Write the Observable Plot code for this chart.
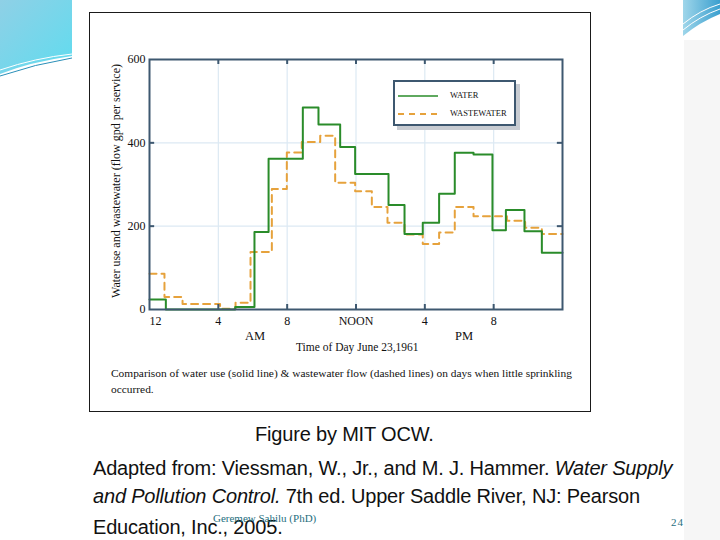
<!DOCTYPE html>
<html><head><meta charset="utf-8">
<script src="https://cdn.jsdelivr.net/npm/d3@7"></script>
<script src="https://cdn.jsdelivr.net/npm/@observablehq/plot@0.6"></script>
<style>
  html,body{margin:0;padding:0;background:#fff;}
  body{width:720px;height:540px;position:relative;overflow:hidden;font-family:"Liberation Serif",serif;}
  .abs{position:absolute;white-space:nowrap;}
  #frame{position:absolute;left:89px;top:12px;width:500px;height:398px;border:1.5px solid #1a1a1a;}
  #chart{position:absolute;left:89px;top:12px;}
  .ser{font-family:"Liberation Serif",serif;color:#111;}
  .sans{font-family:"Liberation Sans",Arial,sans-serif;color:#111;letter-spacing:-0.18px;}
</style>
</head><body>
<svg class="abs" style="left:0;top:0" width="720" height="540">
  <defs>
    <linearGradient id="gl" x1="0" y1="0" x2="1" y2="1">
      <stop offset="0" stop-color="#8fd0e6"/><stop offset="1" stop-color="#5fdcef"/>
    </linearGradient>
    <linearGradient id="gr" x1="0" y1="0" x2="1" y2="0">
      <stop offset="0" stop-color="#9fd6ea"/><stop offset="1" stop-color="#3a9fcf"/>
    </linearGradient>
  </defs>
  <path d="M0,0 L72,0 L72,56 Q30,62 0,74 Z" fill="url(#gl)"/>
  <path d="M0,70 Q35,58 72,54" stroke="#fff" stroke-width="1" fill="none"/>
  <path d="M0,76 Q35,64 72,58" stroke="#2a8fb8" stroke-width="1" fill="none"/>
  <path d="M683,0 L720,0 L720,14 Q700,22 683,36 Z" fill="url(#gr)"/>
  <path d="M683,24 Q700,10 720,4" stroke="#fff" stroke-width="1" fill="none"/>
  <path d="M683,30 Q700,16 720,9" stroke="#fff" stroke-width="1" fill="none"/>
  <rect x="684" y="40" width="36" height="500" fill="#f6f6f6"/>
</svg>
<div id="frame"></div>
<div id="chart"></div>
<div class="abs ser" style="left:116px;top:181px;font-size:12px;transform:translate(-50%,-50%) rotate(-90deg);">Water use and wastewater (flow gpd per service)</div>
<div class="abs ser" style="left:245px;top:329px;font-size:12.5px;">AM</div>
<div class="abs ser" style="left:455px;top:329px;font-size:12.5px;">PM</div>
<div class="abs ser" style="left:296px;top:341px;font-size:11.5px;">Time of Day June 23,1961</div>
<div class="abs ser" style="left:111px;top:367px;font-size:11.4px;">Comparison of water use (solid line) &amp; wastewater flow (dashed lines) on days when little sprinkling</div>
<div class="abs ser" style="left:111px;top:383px;font-size:11.4px;">occurred.</div>
<div class="abs" style="left:393px;top:80px;width:119px;height:42px;border:2px solid #3e5870;background:#fff;box-shadow:4px 4px 0 #c8ccd2;">
  <svg class="abs" style="left:0;top:0" width="119" height="42">
    <line x1="3" y1="14" x2="43" y2="14" stroke="#2a8c2a" stroke-width="1.3"/>
    <line x1="3" y1="32" x2="43" y2="32" stroke="#e6a23c" stroke-width="2" stroke-dasharray="6,5"/>
  </svg>
  <div class="abs ser" style="left:55px;top:8px;font-size:8.5px;">WATER</div>
  <div class="abs ser" style="left:55px;top:26px;font-size:8.5px;">WASTEWATER</div>
</div>
<div class="abs sans" style="left:255px;top:423px;font-size:20px;">Figure by MIT OCW.</div>
<div class="abs sans" style="left:93px;top:457px;font-size:20px;">Adapted from: Viessman, W., Jr., and M. J. Hammer. <i>Water Supply</i></div>
<div class="abs sans" style="left:93px;top:485px;font-size:20px;"><i>and Pollution Control.</i> 7th ed. Upper Saddle River, NJ: Pearson</div>
<div class="abs sans" style="left:93px;top:516px;font-size:20px;">Education, Inc., 2005.</div>
<div class="abs ser" style="left:213px;top:512px;font-size:11px;color:#1f6f80;">Geremew Sahilu (PhD)</div>
<div class="abs ser" style="left:671px;top:516px;font-size:11px;color:#1f6f80;letter-spacing:1px;">24</div>
<script>
// Water use (gpd per service): step start hours and values
const waterHours  = [0, 0.95, 4.98, 6.1, 6.92, 8.91, 9.82, 11.08, 11.95, 13.89, 14.82, 15.88, 16.83, 17.74, 18.83, 19.93, 20.71, 21.79, 22.8, 24];
const waterValues = [24, 0, 6, 186, 362, 485, 444, 390, 325, 251, 181, 208, 278, 376, 372, 190, 239, 188, 136];
// Wastewater flow (gpd per service)
const wasteHours  = [0, 0.87, 1.92, 4.1, 5.0, 5.87, 7.11, 7.98, 8.85, 9.92, 10.79, 11.95, 12.92, 13.83, 14.82, 15.88, 16.83, 17.74, 18.83, 20.77, 21.83, 22.8, 24];
const wasteValues = [86, 30, 13, 2, 16, 138, 289, 377, 402, 417, 304, 284, 246, 208, 180, 157, 185, 246, 224, 213, 196, 181];
// axis ticks
const xTicks = [0, 4, 8, 12, 16, 20];
const xTickLabels = ["12", "4", "8", "NOON", "4", "8"];
const yTicks = [0, 200, 400, 600];
const yGrid = [200, 400];

function steps(hours, values) {
  const pts = values.map((v, i) => ({hour: hours[i], value: v}));
  pts.push({hour: hours[hours.length - 1], value: values[values.length - 1]});
  return pts;
}
const water = steps(waterHours, waterValues);
const waste = steps(wasteHours, wasteValues);
const axisColor = "#3e5870";
const label = d => xTickLabels[xTicks.indexOf(d)];

const chart = Plot.plot({
  width: 502, height: 400,
  marginLeft: 60, marginRight: 29, marginTop: 47, marginBottom: 103,
  x: {domain: [0, 24]},
  y: {domain: [0, 600]},
  style: {fontFamily: "Liberation Serif", fontSize: "12px", background: "transparent", color: "#111"},
  marks: [
    Plot.ruleX(xTicks.slice(1), {stroke: "#dce9f3", strokeWidth: 1.2}),
    Plot.ruleY(yGrid, {stroke: "#dce9f3", strokeWidth: 1.2}),
    Plot.line(waste, {x: "hour", y: "value", curve: "step-after", stroke: "#e6a23c", strokeWidth: 2, strokeDasharray: "7,5"}),
    Plot.line(water, {x: "hour", y: "value", curve: "step-after", stroke: "#2a8c2a", strokeWidth: 2}),
    Plot.frame({stroke: axisColor, strokeWidth: 2}),
    Plot.ruleX(xTicks.slice(1), {y1: 0, y2: 12, stroke: axisColor, strokeWidth: 2}),
    Plot.ruleX(xTicks.slice(1), {y1: 588, y2: 600, stroke: axisColor, strokeWidth: 2}),
    Plot.ruleY(yGrid, {x1: 0, x2: 0.3, stroke: axisColor, strokeWidth: 2}),
    Plot.ruleY(yGrid, {x1: 23.7, x2: 24, stroke: axisColor, strokeWidth: 2}),
    Plot.axisX(xTicks.slice(0, 1), {tickSize: 0, tickPadding: 7, tickFormat: label, textAnchor: "start", dx: 0, fontSize: 12, label: null}),
    Plot.axisX(xTicks.slice(1), {tickSize: 0, tickPadding: 7, tickFormat: label, fontSize: 12, label: null}),
    Plot.axisY(yTicks, {tickSize: 0, tickPadding: 4, fontSize: 12, label: null})
  ]
});
document.getElementById("chart").appendChild(chart);
</script>
</body></html>
